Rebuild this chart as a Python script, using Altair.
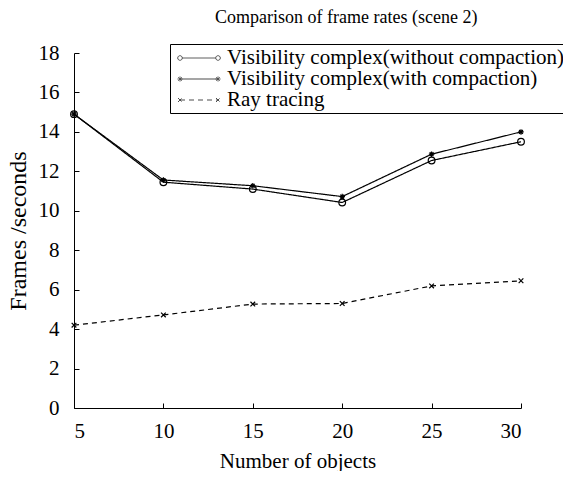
import altair as alt
import pandas as pd

objects = [5, 10, 15, 20, 25, 30]
without_compaction = [14.9, 11.45, 11.1, 10.42, 12.55, 13.5]
with_compaction = [14.9, 11.56, 11.27, 10.72, 12.87, 14.0]
ray_tracing = [4.2, 4.72, 5.27, 5.3, 6.19, 6.45]

series_names = [
    "Visibility complex(without compaction)",
    "Visibility complex(with compaction)",
    "Ray tracing",
]

rows = []
for name, vals in zip(series_names, [without_compaction, with_compaction, ray_tracing]):
    for x, y in zip(objects, vals):
        rows.append({"objects": x, "fps": y, "series": name})
df = pd.DataFrame(rows)

FONT = "'Liberation Serif', 'Times New Roman', 'DejaVu Serif', serif"

star_path = "M-1,0L1,0M0,-1L0,1M-0.7,-0.7L0.7,0.7M-0.7,0.7L0.7,-0.7"
cross_path = "M-1,-1L1,1M-1,1L1,-1"

marker_shapes = ["circle", star_path, cross_path]
marker_sizes = [45, 30, 22]
dashes = [[1, 0], [1, 0], [5, 4]]


def star_at(cx, r):
    d = r * 0.7
    return (
        f"M{cx - r:.3f},0L{cx + r:.3f},0M{cx:.3f},{-r:.3f}L{cx:.3f},{r:.3f}"
        f"M{cx - d:.3f},{-d:.3f}L{cx + d:.3f},{d:.3f}M{cx - d:.3f},{d:.3f}L{cx + d:.3f},{-d:.3f}"
    )


def cross_at(cx, r):
    return f"M{cx - r:.3f},{-r:.3f}L{cx + r:.3f},{r:.3f}M{cx - r:.3f},{r:.3f}L{cx + r:.3f},{-r:.3f}"


def circle_at(cx, r):
    return f"M{cx - r:.3f},0A{r:.3f},{r:.3f} 0 1,0 {cx + r:.3f},0A{r:.3f},{r:.3f} 0 1,0 {cx - r:.3f},0"


L, R = -0.38, 3.24
cr = 0.22
legend_paths = [
    f"M{L + cr:.3f},0L{R - cr:.3f},0" + circle_at(L, cr) + circle_at(R, cr),
    f"M{L:.3f},0L{R:.3f},0" + star_at(L, 0.24) + star_at(R, 0.24),
    f"M{L:.3f},0L{R:.3f},0" + cross_at(L, 0.19) + cross_at(R, 0.19),
]

x_enc = alt.X(
    "objects:Q",
    scale=alt.Scale(domain=[5, 30], nice=False, zero=False),
    axis=alt.Axis(
        values=objects,
        title="Number of objects",
        grid=False,
        tickSize={"expr": "-5"},
        labelPadding=17,
        titlePadding=9,
    ),
)
y_enc = alt.Y(
    "fps:Q",
    scale=alt.Scale(domain=[0, 18], nice=False),
    axis=alt.Axis(
        values=list(range(0, 19, 2)),
        title="Frames /seconds",
        grid=False,
        tickSize={"expr": "-5"},
        labelPadding=20,
        titlePadding=8,
        titleFontSize=24,
    ),
)

layers = []
for i, name in enumerate(series_names):
    sub = alt.Chart(df).transform_filter(alt.datum.series == name)
    layers.append(
        sub.mark_line(color="black", strokeWidth=1.2, strokeDash=dashes[i]).encode(x=x_enc, y=y_enc)
    )
    layers.append(
        sub.mark_point(
            shape=marker_shapes[i],
            size=marker_sizes[i],
            color="black",
            filled=False,
            strokeWidth=1.2,
            opacity=1,
        ).encode(x=x_enc, y=y_enc)
    )

legend_layer = (
    alt.Chart(df)
    .transform_filter("false")
    .mark_point(color="black", filled=False)
    .encode(
        x=x_enc,
        y=y_enc,
        shape=alt.Shape(
            "series:N",
            scale=alt.Scale(domain=series_names, range=legend_paths),
            legend=alt.Legend(
                title=None,
                orient="none",
                legendX=96,
                legendY=-9,
                strokeColor="black",
                fillColor="white",
                padding=3,
                symbolSize=441,
                symbolStrokeColor="black",
                symbolFillColor="white",
                symbolStrokeWidth=1,
                labelFont=FONT,
                labelFontSize=21,
                labelColor="black",
                labelLimit=600,
                rowPadding=0,
                labelOffset=32,
            ),
        ),
        strokeDash=alt.StrokeDash(
            "series:N",
            scale=alt.Scale(domain=series_names, range=dashes),
            legend=alt.Legend(
                title=None,
                orient="none",
                legendX=96,
                legendY=-9,
            ),
        ),
    )
)
layers.append(legend_layer)

chart = (
    alt.layer(*layers)
    .properties(
        width=447,
        height=355,
        autosize=alt.AutoSizeParams(type="none"),
        padding={"left": 66, "top": 45, "right": 42, "bottom": 63},
        title=alt.TitleParams(
            "Comparison of frame rates (scene 2)",
            anchor="start",
            frame="group",
            dx=141,
            offset=15,
            font=FONT,
            fontSize=18,
            fontWeight="normal",
            color="black",
        ),
    )
    .configure_view(stroke=None)
    .configure_legend(labelFont=FONT)
    .configure_axis(
        labelFont=FONT,
        labelFontSize=21,
        labelColor="black",
        titleFont=FONT,
        titleFontSize=21,
        titleFontWeight="normal",
        titleColor="black",
        domainColor="black",
        tickColor="black",
        domainWidth=1,
    )
)

chart.save("out.html", embed_options={"renderer": "svg", "actions": False})
